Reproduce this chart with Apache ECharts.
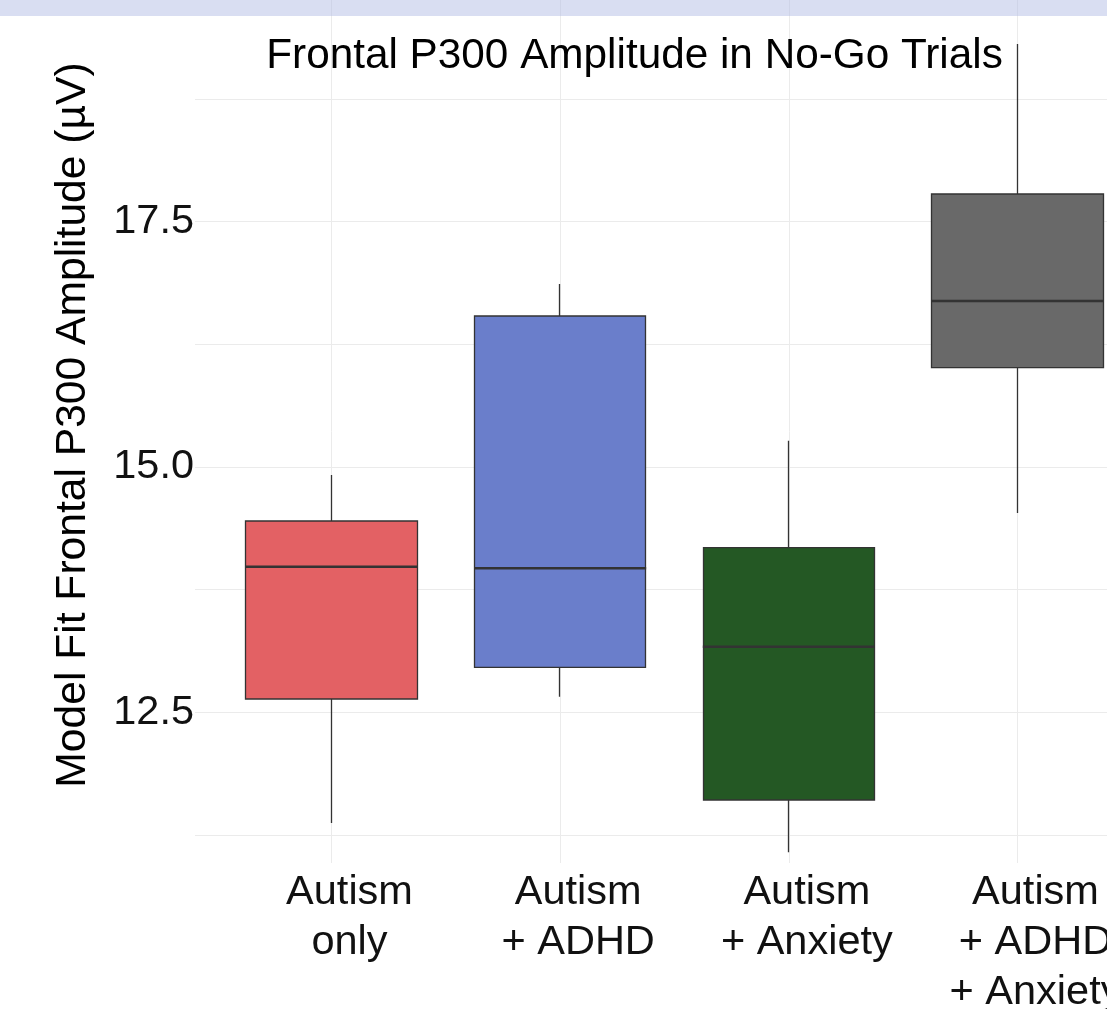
<!DOCTYPE html>
<html>
<head>
<meta charset="utf-8">
<script src="https://cdn.jsdelivr.net/npm/echarts@6/dist/echarts.min.js"></script>
<style>
html,body{margin:0;padding:0;background:#fff;}
#chart{width:1107px;height:1009px;}
</style>
</head>
<body>
<div id="chart"></div>
<script>
// ---- data ----
const categories = ['Autism\nonly', 'Autism\n+ ADHD', 'Autism\n+ Anxiety', 'Autism\n+ ADHD\n+ Anxiety'];
const whiskerLow  = [11.372, 12.659, 11.074, 14.531];
const q1          = [12.636, 12.959, 11.607, 16.012];
const median      = [13.984, 13.968, 13.169, 16.692];
const q3          = [14.450, 16.539, 14.178, 17.782];
const whiskerHigh = [14.918, 16.865, 15.268, 19.310];
const yTickLabels = ['12.5', '15.0', '17.5'];
const titleText = 'Frontal P300 Amplitude in No-Go Trials';
const yAxisTitle = 'Model Fit Frontal P300 Amplitude (\u00b5V)';

// ---- styles ----
const fillColors = ['#e36164', '#6a7ecb', '#245824', '#696969'];
const FONT = '"Liberation Sans", Arial, sans-serif';
const TEXT = '#111111';
const GRID = '#ebebeb';

const candleData = categories.map((c, i) => ({
  value: [q1[i], q3[i], whiskerLow[i], whiskerHigh[i]],
  itemStyle: {
    color: fillColors[i], color0: fillColors[i],
    borderColor: '#333333', borderColor0: '#333333', borderWidth: 1.3
  }
}));
const medianData = categories.map((c, i) => [c, median[i]]);

const chart = echarts.init(document.getElementById('chart'), null, {renderer: 'canvas'});
chart.setOption({
  animation: false,
  backgroundColor: '#ffffff',
  grid: [
    {left: 195, right: 0, top: 99, bottom: 174, outerBoundsMode: 'none', containLabel: false},
    {left: 331.5, right: 89.5, top: 0, bottom: 146, outerBoundsMode: 'none', containLabel: false}
  ],
  xAxis: [
    {gridIndex: 0, type: 'value', show: false, min: 0, max: 1},
    {
      gridIndex: 1, type: 'category', data: categories, boundaryGap: false,
      axisLine: {show: false}, axisTick: {show: false},
      splitLine: {show: true, lineStyle: {color: GRID, width: 1}},
      axisLabel: {
        fontFamily: FONT, fontSize: 41.5, color: TEXT, lineHeight: 50,
        margin: 5, padding: [0, 0, 0, 36], interval: 0, align: 'center',
        hideOverlap: false
      }
    }
  ],
  yAxis: [
    {
      gridIndex: 0, type: 'value', min: 11.25, max: 18.75, interval: 1.25,
      axisLine: {show: false}, axisTick: {show: false},
      splitLine: {show: true, lineStyle: {color: GRID, width: 1}},
      axisLabel: {
        fontFamily: FONT, fontSize: 41.5, color: TEXT, margin: 1,
        formatter: v => { const s = v.toFixed(1); return yTickLabels.indexOf(s) >= 0 ? s : ''; }
      }
    },
    {gridIndex: 1, type: 'value', min: 10.965, max: 19.759, show: false, splitLine: {show: false}}
  ],
  series: [
    {
      type: 'candlestick', xAxisIndex: 1, yAxisIndex: 1,
      barWidth: 172, barMaxWidth: 200,
      data: candleData
    },
    {
      type: 'scatter', xAxisIndex: 1, yAxisIndex: 1,
      symbol: 'rect', symbolSize: [172, 2.6],
      itemStyle: {color: '#333333', opacity: 1},
      data: medianData, z: 5
    }
  ],
  graphic: [
    {
      type: 'rect', left: 0, top: 0, z: 100,
      shape: {width: 1107, height: 16},
      style: {fill: 'rgba(180,190,230,0.5)'}
    },
    {
      type: 'text', x: 634.5, y: 56, z: 100,
      style: {text: titleText, font: '42.3px ' + FONT, fill: '#000', align: 'center', verticalAlign: 'middle'}
    },
    {
      type: 'text', x: 73, y: 425, rotation: Math.PI / 2, z: 100,
      style: {text: yAxisTitle, font: '42.6px ' + FONT, fill: '#000', align: 'center', verticalAlign: 'middle'}
    }
  ]
});
</script>
</body>
</html>
